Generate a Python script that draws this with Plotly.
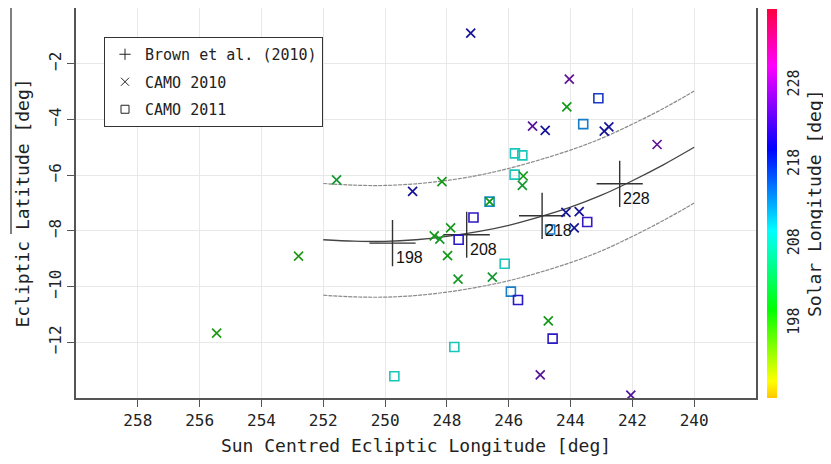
import plotly.graph_objects as go

# ---------------- data ----------------
brown_lon = [249.76, 247.36, 244.92, 242.41]
brown_lat = [-8.44, -8.14, -7.46, -6.31]
brown_label = ["198", "208", "218", "228"]

camo2010_lon = [247.23, 244.04, 244.12, 245.23, 244.82, 242.91, 242.76, 241.20,
                245.53, 245.56, 248.16, 249.11, 246.62, 247.88, 248.41, 248.23,
                244.15, 243.72, 243.88, 247.98, 247.64, 246.53, 244.72, 244.98,
                242.05, 251.57, 252.80, 255.45]
camo2010_lat = [-0.90, -2.55, -3.55, -4.24, -4.39, -4.42, -4.27, -4.90,
                -6.03, -6.37, -6.23, -6.58, -6.95, -7.89, -8.18, -8.30,
                -7.34, -7.31, -7.89, -8.89, -9.73, -9.66, -11.23, -13.17,
                -13.90, -6.17, -8.91, -11.67]
camo2010_sol = [220, 226, 200, 225, 220, 220, 220, 226,
                200, 202, 200, 220, 200, 200, 200, 201,
                220, 220, 220, 200, 201, 202, 200, 225,
                225, 202, 199, 199]

camo2011_lon = [243.10, 243.59, 245.80, 245.56, 245.81, 246.62, 247.14, 247.62,
                244.66, 243.46, 246.13, 245.93, 245.70, 244.58, 247.76, 249.70]
camo2011_lat = [-3.24, -4.17, -5.22, -5.29, -5.98, -6.95, -7.52, -8.32,
                -7.95, -7.68, -9.18, -10.18, -10.48, -11.87, -12.17, -13.22]
camo2011_sol = [218, 214, 209, 209, 209, 213, 221, 221,
                214, 222, 209, 214, 221, 221, 209, 209]

curve_lon = [252, 251, 250, 249, 248, 247, 246, 245, 244, 243, 242, 241, 240]
curve_mid = [-8.32, -8.37, -8.38, -8.32, -8.20, -8.03, -7.80, -7.50, -7.15, -6.72, -6.20, -5.63, -5.00]
curve_up = [-6.30, -6.36, -6.37, -6.31, -6.19, -6.01, -5.76, -5.45, -5.10, -4.68, -4.17, -3.61, -2.98]
curve_lo = [-10.31, -10.37, -10.38, -10.32, -10.20, -10.02, -9.79, -9.49, -9.14, -8.72, -8.20, -7.63, -7.00]

x_ticks = [258, 256, 254, 252, 250, 248, 246, 244, 242, 240]
y_ticks = [-12, -10, -8, -6, -4, -2]
c_ticks = [198, 208, 218, 228]
c_range = [188.6, 237.6]

# ---------------- styling ----------------
FONT = "DejaVu Sans Mono"
stops = [0.0, 0.043, 0.227, 0.43, 0.64, 0.853, 1.0]
rgbs = [(255, 200, 0), (255, 255, 0), (0, 255, 0), (0, 255, 255),
        (0, 0, 255), (255, 0, 255), (255, 0, 64)]


def scale(f, lift=0):
    return [[s, "rgb(%d,%d,%d)" % tuple(min(255, int(c * f) + lift) for c in rgb)] for s, rgb in zip(stops, rgbs)]


bright = scale(1.0)
dark_x = scale(0.52, 20)
dark_sq = scale(0.68, 25)

# page offset (body margin) and plot area in page pixels
OFF = 8
PL, PR, PT, PB = 76, 756, 8, 398
W, H = 831 - OFF, 464 - 2 * OFF
L, T = PL - OFF, PT - OFF
R, B = W - (PR - OFF), H - (PB - OFF)
pw, ph = PR - PL, PB - PT


def px(xp):
    return (xp - PL) / pw


def py(yp):
    return 1 - (yp - PT) / ph


fig = go.Figure()

# curves
fig.add_trace(go.Scatter(x=curve_lon, y=curve_up, mode="lines", line=dict(color="#8a8a8a", width=1.2, dash="4px,1px", shape="spline"),
                         showlegend=False, hoverinfo="skip"))
fig.add_trace(go.Scatter(x=curve_lon, y=curve_lo, mode="lines", line=dict(color="#8a8a8a", width=1.2, dash="4px,1px", shape="spline"),
                         showlegend=False, hoverinfo="skip"))
fig.add_trace(go.Scatter(x=curve_lon, y=curve_mid, mode="lines", line=dict(color="#444444", width=1.3, shape="spline"),
                         showlegend=False, hoverinfo="skip"))

# Brown et al. radiant positions
fig.add_trace(go.Scatter(x=brown_lon, y=brown_lat, mode="markers",
                         marker=dict(symbol="cross-thin", size=33, color="#333333",
                                     line=dict(width=1.4, color="#333333")),
                         showlegend=False))
for lo, la, lab in zip(brown_lon, brown_lat, brown_label):
    fig.add_annotation(x=lo, y=la, text=lab, showarrow=False, xanchor="left", yanchor="top",
                       xshift=1, yshift=-4, font=dict(family="Liberation Sans", size=16, color="#111111"))

# CAMO 2011 squares
fig.add_trace(go.Scatter(x=camo2011_lon, y=camo2011_lat, mode="markers",
                         marker=dict(symbol="square-open", size=9, color=camo2011_sol,
                                     colorscale=dark_sq, cmin=c_range[0], cmax=c_range[1],
                                     line=dict(width=1.6, color=camo2011_sol, colorscale=dark_sq,
                                               cmin=c_range[0], cmax=c_range[1])),
                         showlegend=False))
# CAMO 2010 crosses
fig.add_trace(go.Scatter(x=camo2010_lon, y=camo2010_lat, mode="markers",
                         marker=dict(symbol="x-thin", size=9, color=camo2010_sol,
                                     colorscale=dark_x, cmin=c_range[0], cmax=c_range[1],
                                     line=dict(width=1.7, color=camo2010_sol, colorscale=dark_x,
                                               cmin=c_range[0], cmax=c_range[1])),
                         showlegend=False))

# colorbar carrier
fig.add_trace(go.Scatter(x=[None], y=[None], mode="markers",
                         marker=dict(color=c_range, colorscale=bright, cmin=c_range[0], cmax=c_range[1],
                                     showscale=True,
                                     colorbar=dict(x=px(767), xanchor="left", xpad=0, ypad=0,
                                                   y=py((9 + 398) / 2), yanchor="middle", len=(398 - 9) / ph,
                                                   lenmode="fraction",
                                                   thickness=10, outlinewidth=0,
                                                   tickvals=c_ticks, tickangle=-90, ticks="outside",
                                                   ticklen=4, tickcolor="rgba(0,0,0,0)",
                                                   tickfont=dict(family=FONT, size=15, color="#222"))),
                         showlegend=False, hoverinfo="skip"))

# legend entries
for i, (name, sym) in enumerate([("Brown et al. (2010)", "cross-thin"), ("CAMO 2010", "x-thin"),
                                 ("CAMO 2011", "square-open")]):
    fig.add_trace(go.Scatter(x=[None], y=[None], mode="markers", name=name, legendgroup="g%d" % i,
                             marker=dict(symbol=sym, size=8, color="#222222",
                                         line=dict(width=1.0, color="#222222"))))

# colorbar title
fig.add_annotation(xref="paper", yref="paper", x=px(814), y=0.5, text="Solar Longitude [deg]",
                   textangle=-90, showarrow=False, xanchor="center", yanchor="middle",
                   font=dict(family=FONT, size=18, color="#222"))

# odd vertical rule next to y title
fig.add_shape(type="line", xref="paper", yref="paper", x0=px(11), x1=px(11),
              y0=py(8), y1=py(234), line=dict(color="#000", width=1))

axis_common = dict(showline=True, linecolor="#555555", linewidth=1.6, mirror=True,
                   showgrid=True, gridcolor="#e8e8e8", gridwidth=1, zeroline=False,
                   ticks="outside", ticklen=7, tickcolor="#555555", tickwidth=1.3,
                   tickfont=dict(family=FONT, size=16, color="#222"), automargin=False)

fig.update_layout(
    width=W, height=H,
    margin=dict(l=L, r=R, t=T, b=B, autoexpand=False),
    paper_bgcolor="white", plot_bgcolor="white",
    font=dict(family=FONT, color="#222"),
    xaxis=dict(range=[260, 238], tickvals=x_ticks, title=dict(text="Sun Centred Ecliptic Longitude [deg]",
               font=dict(family=FONT, size=18), standoff=19), **axis_common),
    yaxis=dict(range=[-14, 0], tickvals=y_ticks, tickangle=-90,
               title=dict(text="Ecliptic Latitude [deg]", font=dict(family=FONT, size=18), standoff=11),
               **axis_common),
    legend=dict(x=px(104), y=py(37), xanchor="left", yanchor="top",
                bgcolor="white", bordercolor="#333333", borderwidth=1,
                font=dict(family=FONT, size=15, color="#222"), tracegroupgap=5, itemwidth=30),
    showlegend=True,
)

fig.write_html("out.html")
